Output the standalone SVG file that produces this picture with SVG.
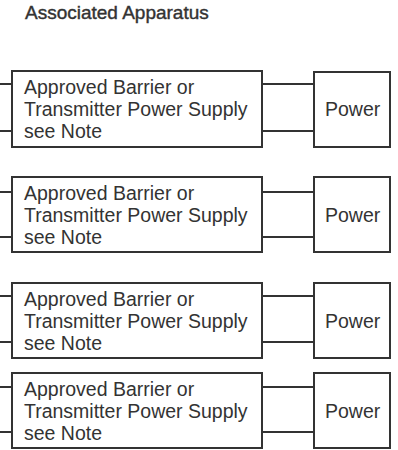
<svg xmlns="http://www.w3.org/2000/svg" width="398" height="450" viewBox="0 0 398 450">
<style>
.box{fill:#fff;stroke:#333;stroke-width:2}
.wire{stroke:#333;stroke-width:2;fill:none}
text{font-family:"Liberation Sans",Arial,sans-serif;font-size:19.5px;fill:#333}
.title{font-size:19px;stroke:#333;stroke-width:0.4}
</style>
<rect width="398" height="450" fill="#fff"/>
<text class="title" x="25" y="18.5">Associated Apparatus</text>
<g id="connectors">
<path class="wire" d="M0 84H12M0 131H12M262 84H314M262 131H314"/>
<path class="wire" d="M0 192H12M0 237H12M262 192H314M262 237H314"/>
<path class="wire" d="M0 296H12M0 342H12M262 296H314M262 342H314"/>
<path class="wire" d="M0 387H12M0 432H12M262 387H314M262 432H314"/>
</g>
<g id="barrier1"><rect class="box" x="12" y="71" width="250" height="76"/><text x="24" y="93.5">Approved Barrier or</text><text x="24" y="115.5">Transmitter Power Supply</text><text x="24" y="137.5">see Note</text></g>
<g id="power1"><rect class="box" x="314" y="72" width="76" height="75"/><text x="325" y="115.5">Power</text></g>
<g id="barrier2"><rect class="box" x="12" y="177" width="250" height="75"/><text x="24" y="199.5">Approved Barrier or</text><text x="24" y="221.5">Transmitter Power Supply</text><text x="24" y="243.5">see Note</text></g>
<g id="power2"><rect class="box" x="314" y="177" width="76" height="75"/><text x="325" y="221.5">Power</text></g>
<g id="barrier3"><rect class="box" x="12" y="283" width="250" height="75"/><text x="24" y="305.5">Approved Barrier or</text><text x="24" y="327.5">Transmitter Power Supply</text><text x="24" y="349.5">see Note</text></g>
<g id="power3"><rect class="box" x="314" y="283" width="76" height="75"/><text x="325" y="327.5">Power</text></g>
<g id="barrier4"><rect class="box" x="12" y="373" width="250" height="75"/><text x="24" y="395.5">Approved Barrier or</text><text x="24" y="417.5">Transmitter Power Supply</text><text x="24" y="439.5">see Note</text></g>
<g id="power4"><rect class="box" x="314" y="373" width="76" height="75"/><text x="325" y="417.5">Power</text></g>
</svg>
